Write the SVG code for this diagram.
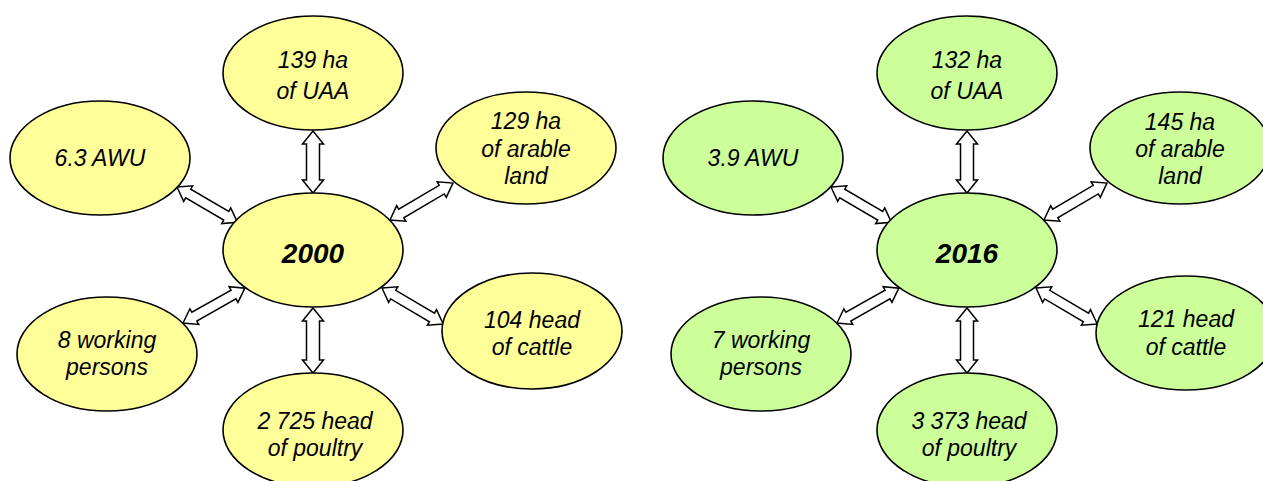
<svg xmlns="http://www.w3.org/2000/svg" width="1263" height="481" viewBox="0 0 1263 481">
<style>
.y{fill:#FFFF99;stroke:#000;stroke-width:1.6}
.g{fill:#CCFF99;stroke:#000;stroke-width:1.6}
.t{font-family:"Liberation Sans",Arial,sans-serif;font-style:italic;font-size:23px;text-anchor:middle;fill:#000}
.b{font-family:"Liberation Sans",Arial,sans-serif;font-style:italic;font-weight:bold;font-size:28px;text-anchor:middle;fill:#000}
.a{fill:#fff;stroke:#000;stroke-width:1.5;stroke-linejoin:miter}
</style>
<rect width="1263" height="481" fill="#fff"/>
<g id="connectors">
<path class="a" transform="translate(313,131) rotate(90)" d="M0,0 L13,-10.5 L13,-6.5 L49,-6.5 L49,-10.5 L62,0 L49,10.5 L49,6.5 L13,6.5 L13,10.5 Z"/>
<path class="a" transform="translate(313,308) rotate(90)" d="M0,0 L13,-10.5 L13,-6.5 L52,-6.5 L52,-10.5 L65,0 L52,10.5 L52,6.5 L13,6.5 L13,10.5 Z"/>
<path class="a" transform="translate(177,187) rotate(30.3)" d="M0,0 L13,-9 L13,-5 L57,-5 L57,-9 L70,0 L57,9 L57,5 L13,5 L13,9 Z"/>
<path class="a" transform="translate(390,220) rotate(-30.4)" d="M0,0 L13,-9 L13,-5 L60,-5 L60,-9 L73,0 L60,9 L60,5 L13,5 L13,9 Z"/>
<path class="a" transform="translate(183,323) rotate(-29.4)" d="M0,0 L13,-9 L13,-5 L58,-5 L58,-9 L71,0 L58,9 L58,5 L13,5 L13,9 Z"/>
<path class="a" transform="translate(382,288) rotate(30.5)" d="M0,0 L13,-9 L13,-5 L58,-5 L58,-9 L71,0 L58,9 L58,5 L13,5 L13,9 Z"/>
<path class="a" transform="translate(967,131) rotate(90)" d="M0,0 L13,-10.5 L13,-6.5 L49,-6.5 L49,-10.5 L62,0 L49,10.5 L49,6.5 L13,6.5 L13,10.5 Z"/>
<path class="a" transform="translate(967,308) rotate(90)" d="M0,0 L13,-10.5 L13,-6.5 L52,-6.5 L52,-10.5 L65,0 L52,10.5 L52,6.5 L13,6.5 L13,10.5 Z"/>
<path class="a" transform="translate(831,187) rotate(30.3)" d="M0,0 L13,-9 L13,-5 L57,-5 L57,-9 L70,0 L57,9 L57,5 L13,5 L13,9 Z"/>
<path class="a" transform="translate(1044,220) rotate(-30.4)" d="M0,0 L13,-9 L13,-5 L60,-5 L60,-9 L73,0 L60,9 L60,5 L13,5 L13,9 Z"/>
<path class="a" transform="translate(837,323) rotate(-29.4)" d="M0,0 L13,-9 L13,-5 L58,-5 L58,-9 L71,0 L58,9 L58,5 L13,5 L13,9 Z"/>
<path class="a" transform="translate(1036,288) rotate(30.5)" d="M0,0 L13,-9 L13,-5 L58,-5 L58,-9 L71,0 L58,9 L58,5 L13,5 L13,9 Z"/>
</g>
<g id="n2000"><ellipse class="y" cx="313" cy="250" rx="90" ry="57"/><text class="b" x="313" y="263">2000</text></g>
<g id="n2000-uaa"><ellipse class="y" cx="313" cy="73" rx="90" ry="57"/><text class="t" x="313" y="68">139 ha</text><text class="t" x="313" y="99">of UAA</text></g>
<g id="n2000-awu"><ellipse class="y" cx="100" cy="158" rx="90" ry="57"/><text class="t" x="100" y="166">6.3 AWU</text></g>
<g id="n2000-arable"><ellipse class="y" cx="526" cy="148" rx="90" ry="56"/><text class="t" x="526" y="129">129 ha</text><text class="t" x="526" y="157">of arable</text><text class="t" x="526" y="184">land</text></g>
<g id="n2000-cattle"><ellipse class="y" cx="532" cy="331" rx="90" ry="58"/><text class="t" x="532" y="328">104 head</text><text class="t" x="532" y="355">of cattle</text></g>
<g id="n2000-persons"><ellipse class="y" cx="107" cy="354" rx="90" ry="57"/><text class="t" x="107" y="348">8 working</text><text class="t" x="107" y="375">persons</text></g>
<g id="n2000-poultry"><ellipse class="y" cx="313" cy="430" rx="90" ry="57"/><text class="t" x="315" y="429">2 725 head</text><text class="t" x="315" y="456">of poultry</text></g>
<g id="n2016"><ellipse class="g" cx="967" cy="250" rx="90" ry="57"/><text class="b" x="967" y="263">2016</text></g>
<g id="n2016-uaa"><ellipse class="g" cx="967" cy="73" rx="90" ry="57"/><text class="t" x="967" y="68">132 ha</text><text class="t" x="967" y="99">of UAA</text></g>
<g id="n2016-awu"><ellipse class="g" cx="753" cy="158" rx="90" ry="57"/><text class="t" x="753" y="166">3.9 AWU</text></g>
<g id="n2016-arable"><ellipse class="g" cx="1180" cy="148" rx="90" ry="56"/><text class="t" x="1180" y="130">145 ha</text><text class="t" x="1180" y="157">of arable</text><text class="t" x="1180" y="184">land</text></g>
<g id="n2016-cattle"><ellipse class="g" cx="1186" cy="333" rx="90" ry="57"/><text class="t" x="1186" y="327">121 head</text><text class="t" x="1186" y="355">of cattle</text></g>
<g id="n2016-persons"><ellipse class="g" cx="761" cy="354" rx="90" ry="57"/><text class="t" x="761" y="348">7 working</text><text class="t" x="761" y="375">persons</text></g>
<g id="n2016-poultry"><ellipse class="g" cx="967" cy="430" rx="90" ry="57"/><text class="t" x="969" y="429">3 373 head</text><text class="t" x="969" y="456">of poultry</text></g>
</svg>
